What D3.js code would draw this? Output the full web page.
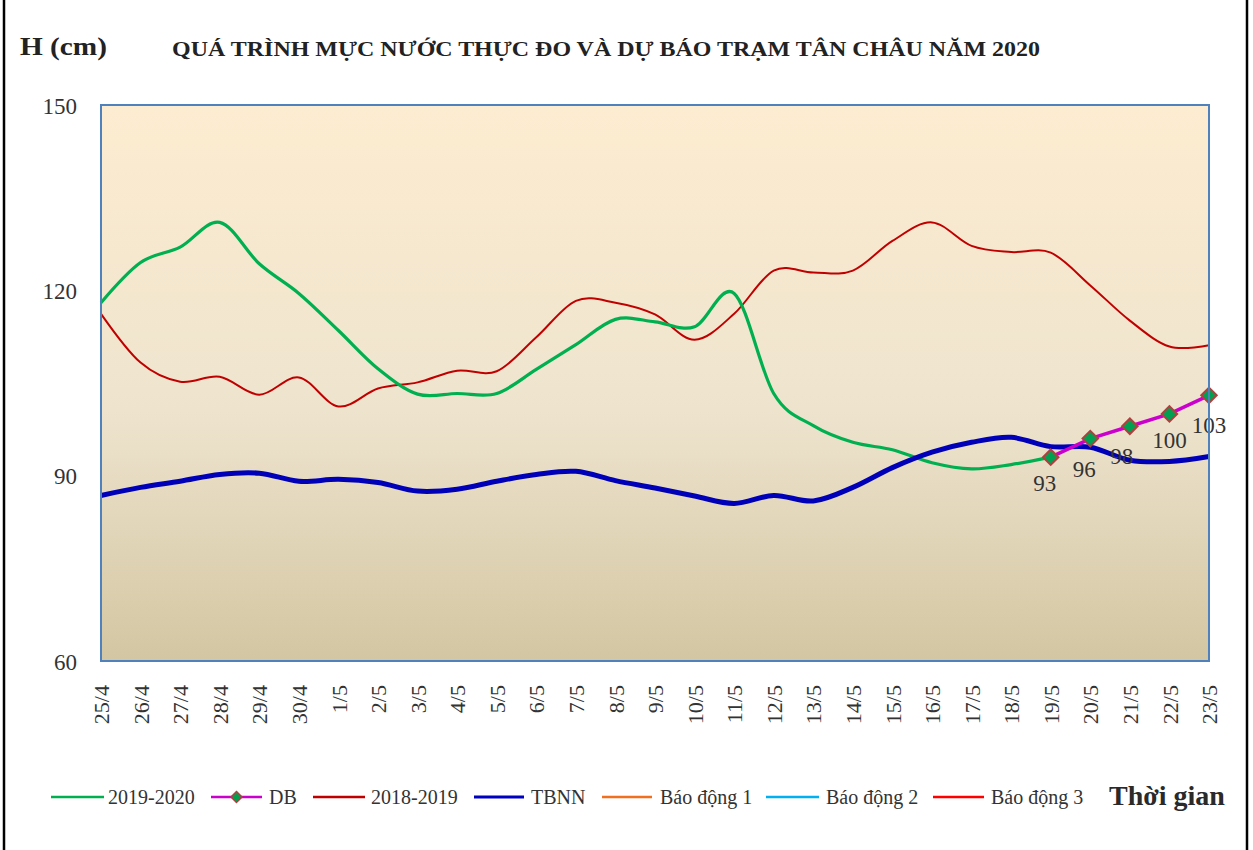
<!DOCTYPE html>
<html>
<head>
<meta charset="utf-8">
<script src="https://cdn.jsdelivr.net/npm/d3@7"></script>
<style>
  html, body { margin: 0; padding: 0; background: #fff; }
  svg { display: block; }
  text { font-family: "Liberation Serif", "Times New Roman", serif; }
</style>
</head>
<body>
<svg id="chart" width="1253" height="850"></svg>
<script>
// ---------------- DATA ----------------
const categories = ["25/4","26/4","27/4","28/4","29/4","30/4","1/5","2/5","3/5","4/5","5/5","6/5","7/5","8/5","9/5","10/5","11/5","12/5","13/5","14/5","15/5","16/5","17/5","18/5","19/5","20/5","21/5","22/5","23/5"];
const series2019_2020 = [118, 124.5, 127, 131, 124.3, 119.5, 113.5, 107.3, 103.2, 103.3, 103.3, 107.2, 111.2, 115.3, 114.9, 114.1, 119.5, 103.3, 98.1, 95.4, 94.2, 92.1, 91.1, 91.8, 93];
const seriesDB = [null,null,null,null,null,null,null,null,null,null,null,null,null,null,null,null,null,null,null,null,null,null,null,null, 93, 96, 98, 100, 103];
const series2018_2019 = [116.2, 108.3, 105.2, 106, 103.1, 105.9, 101.2, 104.1, 105.1, 107, 106.9, 112.4, 118.3, 118, 116.1, 112, 116.2, 123.2, 122.9, 123.2, 128, 131, 127.2, 126.2, 126.1, 120.8, 115.1, 110.9, 111.1];
const seriesTBNN = [86.8, 88.1, 89.1, 90.2, 90.4, 89.1, 89.4, 88.9, 87.5, 87.8, 89.1, 90.2, 90.7, 89.2, 88, 86.7, 85.5, 86.8, 85.9, 88.1, 91.3, 93.8, 95.4, 96.2, 94.7, 94.6, 92.5, 92.3, 93.1];
const yTicks = [60, 90, 120, 150];
const legendNames = ["2019-2020", "DB", "2018-2019", "TBNN", "Báo động 1", "Báo động 2", "Báo động 3"];
const legendColors = ["#00b050", "#cc00cc", "#c00000", "#0000c0", "#f07020", "#00b0f0", "#ff0000"];
const titleText = "QUÁ TRÌNH MỰC NƯỚC THỰC ĐO VÀ DỰ BÁO TRẠM TÂN CHÂU NĂM 2020";

// ---------------- LAYOUT ----------------
const svg = d3.select("#chart");
const plot = { left: 101, right: 1209, top: 105, bottom: 661 };

const x = d3.scalePoint().domain(categories).range([plot.left, plot.right]);
const y = d3.scaleLinear().domain([60, 150]).range([plot.bottom, plot.top]);

// outer frame (left/right)
svg.append("line").attr("x1", 4).attr("x2", 4).attr("y1", 0).attr("y2", 850)
  .attr("stroke", "#000").attr("stroke-width", 2.5);
svg.append("line").attr("x1", 1247).attr("x2", 1247).attr("y1", 0).attr("y2", 850)
  .attr("stroke", "#000").attr("stroke-width", 2.5);

// background gradient
const defs = svg.append("defs");
const grad = defs.append("linearGradient").attr("id", "bg").attr("x1", 0).attr("y1", 0).attr("x2", 0).attr("y2", 1);
grad.append("stop").attr("offset", "0%").attr("stop-color", "#fdecd0");
grad.append("stop").attr("offset", "55%").attr("stop-color", "#eee4ce");
grad.append("stop").attr("offset", "100%").attr("stop-color", "#d3c6a2");

svg.append("rect")
  .attr("x", plot.left).attr("y", plot.top)
  .attr("width", plot.right - plot.left).attr("height", plot.bottom - plot.top)
  .attr("fill", "url(#bg)");

// Titles
svg.append("text").attr("x", 20).attr("y", 55)
  .attr("font-size", 25).attr("font-weight", "bold").attr("fill", "#222")
  .attr("textLength", 87).attr("lengthAdjust", "spacingAndGlyphs")
  .text("H (cm)");
svg.append("text").attr("x", 172).attr("y", 56)
  .attr("font-size", 21).attr("font-weight", "bold").attr("fill", "#222")
  .attr("textLength", 868).attr("lengthAdjust", "spacingAndGlyphs")
  .text(titleText);

// Y axis labels
const yAxis = d3.axisLeft(y).tickValues(yTicks).tickSize(0).tickPadding(0);
const gy = svg.append("g").attr("transform", `translate(77,0)`).call(yAxis);
gy.select(".domain").remove();
gy.selectAll("text").attr("font-size", 23).attr("fill", "#333")
  .attr("font-family", "Liberation Serif, serif").attr("dy", "0.35em");

// X axis labels (rotated)
const xAxis = d3.axisBottom(x).tickSize(0).tickPadding(0);
const gx = svg.append("g").attr("transform", `translate(0,${plot.bottom})`).call(xAxis);
gx.select(".domain").remove();
gx.selectAll(".tick text")
  .attr("font-size", 22).attr("fill", "#333")
  .attr("font-family", "Liberation Serif, serif")
  .attr("text-anchor", "end")
  .attr("transform", "translate(0,24) rotate(-90)")
  .attr("x", 0).attr("y", 0).attr("dy", "0.35em");

// Lines
const curve = d3.curveCardinal.tension(0);
function lineGen(arr) {
  return d3.line()
    .defined((d, i) => d != null)
    .x((d, i) => x(categories[i]))
    .y(d => y(d))
    .curve(curve)(arr);
}

const g = svg.append("g");

g.append("path").attr("d", lineGen(series2018_2019))
  .attr("fill", "none").attr("stroke", "#c00000").attr("stroke-width", 2);
g.append("path").attr("d", lineGen(series2019_2020))
  .attr("fill", "none").attr("stroke", "#00b050").attr("stroke-width", 3.2);
g.append("path").attr("d", lineGen(seriesTBNN))
  .attr("fill", "none").attr("stroke", "#0000b8").attr("stroke-width", 5);

// DB line (straight segments)
const dbPts = seriesDB.map((v, i) => v == null ? null : { c: categories[i], v });
const dbValid = dbPts.filter(d => d);
g.append("path")
  .attr("d", d3.line().x(d => x(d.c)).y(d => y(d.v))(dbValid))
  .attr("fill", "none").attr("stroke", "#cc00cc").attr("stroke-width", 3.5);

g.selectAll(".dbm").data(dbValid).enter().append("path")
  .attr("class", "dbm")
  .attr("d", d3.symbol().type(d3.symbolSquare).size(120))
  .attr("transform", d => `translate(${x(d.c)},${y(d.v)}) rotate(45)`)
  .attr("fill", "#00a050").attr("stroke", "#b04040").attr("stroke-width", 2);

// data labels
const labelOffsets = [[-6, 34], [-6, 38], [-8, 38], [0, 34], [0, 38]];
g.selectAll(".dbl").data(dbValid).enter().append("text")
  .attr("class", "dbl")
  .attr("x", (d, i) => x(d.c) + labelOffsets[i][0])
  .attr("y", (d, i) => y(d.v) + labelOffsets[i][1])
  .attr("text-anchor", "middle")
  .attr("font-size", 23).attr("fill", "#333")
  .text(d => d.v);

// plot border
svg.append("rect")
  .attr("x", plot.left).attr("y", plot.top)
  .attr("width", plot.right - plot.left).attr("height", plot.bottom - plot.top)
  .attr("fill", "none").attr("stroke", "#4f81bd").attr("stroke-width", 2);

// Legend
const legendY = 797;
const legendItems = [
  { x1: 51, x2: 104, tx: 108 },
  { x1: 211, x2: 262, tx: 269 },
  { x1: 313, x2: 365, tx: 371 },
  { x1: 474, x2: 524, tx: 531 },
  { x1: 602, x2: 652, tx: 660 },
  { x1: 766, x2: 819, tx: 826 },
  { x1: 933, x2: 984, tx: 991 }
];
const lg = svg.append("g");
legendNames.forEach((name, i) => {
  const it = legendItems[i];
  lg.append("line").attr("x1", it.x1).attr("x2", it.x2)
    .attr("y1", legendY).attr("y2", legendY)
    .attr("stroke", legendColors[i]).attr("stroke-width", i === 3 ? 3 : 2.5);
  if (name === "DB") {
    lg.append("path")
      .attr("d", d3.symbol().type(d3.symbolSquare).size(60))
      .attr("transform", `translate(${(it.x1 + it.x2) / 2},${legendY}) rotate(45)`)
      .attr("fill", "#00a050").attr("stroke", "#b04040").attr("stroke-width", 1.5);
  }
  lg.append("text").attr("x", it.tx).attr("y", legendY).attr("dy", "0.35em")
    .attr("font-size", 20).attr("fill", "#333").text(name);
});
svg.append("text").attr("x", 1109).attr("y", 805)
  .attr("font-size", 28).attr("font-weight", "bold").attr("fill", "#2a2a2a")
  .text("Thời gian");
</script>
</body>
</html>
